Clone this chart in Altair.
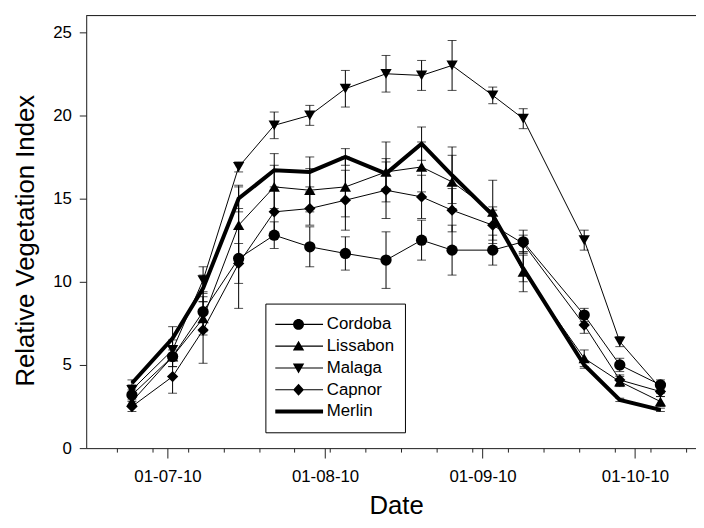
import altair as alt
import pandas as pd

dates = ["2010-06-24", "2010-07-02", "2010-07-08", "2010-07-15", "2010-07-22",
         "2010-07-29", "2010-08-05", "2010-08-13", "2010-08-20", "2010-08-26",
         "2010-09-03", "2010-09-09", "2010-09-21", "2010-09-28", "2010-10-06"]

series_names = ["Cordoba", "Lissabon", "Malaga", "Capnor", "Merlin"]

cordoba = [3.2, 5.5, 8.2, 11.4, 12.8, 12.1, 11.7, 11.3, 12.5, 11.9, 11.9, 12.4, 8.0, 5.0, 3.8]
lissabon = [2.8, 5.5, 7.8, 13.4, 15.7, 15.5, 15.7, 16.6, 16.9, 16.0, 14.2, 10.6, 5.4, 4.0, 2.8]
malaga = [3.5, 5.9, 10.1, 16.9, 19.4, 20.0, 21.6, 22.5, 22.4, 23.0, 21.2, 19.8, 12.5, 6.4, 3.6]
capnor = [2.5, 4.3, 7.1, 11.1, 14.2, 14.4, 14.9, 15.5, 15.1, 14.3, 13.4, 12.3, 7.4, 4.1, 3.4]
merlin = [3.9, 6.6, 9.6, 15.0, 16.7, 16.6, 17.5, 16.5, 18.3, 16.4, 14.0, 10.8, 5.0, 2.9, 2.3]

cordoba_err = [0.3, 0.6, 1.2, 3.0, 0.8, 1.2, 1.0, 1.7, 1.2, 1.5, 0.9, 0.7, 0.4, 0.4, 0.3]
lissabon_err = [0.3, 0.6, 1.0, 2.3, 1.3, 1.3, 1.8, 1.8, 1.5, 1.6, 1.9, 1.2, 0.5, 0.3, 0.3]
malaga_err = [0.3, 0.6, 0.8, 0.3, 0.8, 0.6, 1.1, 1.1, 0.9, 1.5, 0.5, 0.6, 0.6, 0.3, 0.3]
capnor_err = [0.3, 1.0, 2.0, 1.2, 1.3, 1.0, 1.8, 1.7, 1.3, 1.3, 0.9, 0.5, 0.5, 0.3, 0.3]
merlin_err = [0.2, 0.7, 0.8, 0.8, 1.0, 0.9, 0.5, 0.9, 1.0, 1.7, 0.5, 0.8, 0.2, 0.1, 0.1]

month_ticks = ["2010-07-01", "2010-08-01", "2010-09-01", "2010-10-01"]
week_ticks = ["2010-06-21", "2010-06-28", "2010-07-05", "2010-07-12", "2010-07-19",
              "2010-07-26", "2010-08-02", "2010-08-09", "2010-08-16", "2010-08-23",
              "2010-08-30", "2010-09-06", "2010-09-13", "2010-09-20", "2010-09-27",
              "2010-10-04", "2010-10-11"]
x_domain = ["2010-06-15", "2010-10-13"]
y_ticks = [0, 5, 10, 15, 20, 25]

values = [cordoba, lissabon, malaga, capnor, merlin]
errors = [cordoba_err, lissabon_err, malaga_err, capnor_err, merlin_err]

rows = []
for name, vals, errs in zip(series_names, values, errors):
    for d, v, e in zip(dates, vals, errs):
        rows.append({"series": name, "date": d + "T00:00:00", "value": v, "err": e})
df = pd.DataFrame(rows)

def dt(s):
    y, m, d = s.split("-")
    return alt.DateTime(year=int(y), month=int(m), date=int(d))

FONT = "Liberation Sans"
W, H = 616, 437

xscale = alt.Scale(domain=[dt(s) for s in x_domain], nice=False)
yscale = alt.Scale(domain=[0, 26], nice=False)

x_main = alt.X("date:T", scale=xscale, title="Date",
               axis=alt.Axis(values=[dt(s) for s in month_ticks], format="%d-%m-%y",
                             orient="bottom", tickSize=10, labelPadding=11,
                             labelFontSize=17, labelFont=FONT, labelColor="black",
                             titleFont=FONT, titleFontSize=26, titleFontWeight="normal",
                             titleColor="black", titlePadding=8, titleX=313,
                             domainColor="#222", tickColor="#222", grid=False,
                             labelFlush=False))
x_plain = alt.X("date:T", scale=xscale, axis=None)
y_main = alt.Y("value:Q", scale=yscale, title="Relative Vegetation Index",
               axis=alt.Axis(values=y_ticks, tickSize=7, labelPadding=8,
                             orient="left",
                             labelFontSize=17, labelFont=FONT, labelColor="black",
                             titleFont=FONT, titleFontSize=26, titleFontWeight="normal",
                             titleColor="black", titlePadding=14, titleY=227,
                             domainColor="#222", tickColor="#222", grid=False))
y_plain = alt.Y("value:Q", scale=yscale, axis=None)

base = alt.Chart(df).transform_calculate(
    lo="datum.value - datum.err", hi="datum.value + datum.err")

minor_axis = base.mark_rule(opacity=0).encode(
    x=alt.X("date:T", scale=xscale,
            axis=alt.Axis(values=[dt(s) for s in week_ticks], orient="bottom",
                          tickSize=4, labels=False, domain=False, title=None,
                          tickColor="#222", grid=False)),
    y=y_main)

err_rule = base.mark_rule(color="black", strokeWidth=1).encode(
    x=x_plain, y=alt.Y("lo:Q", scale=yscale, axis=None), y2="hi:Q", detail="series:N")
err_lo = base.mark_tick(color="black", orient="horizontal", size=9, thickness=1).encode(
    x=x_plain, y=alt.Y("lo:Q", scale=yscale, axis=None), detail="series:N")
err_hi = base.mark_tick(color="black", orient="horizontal", size=9, thickness=1).encode(
    x=x_plain, y=alt.Y("hi:Q", scale=yscale, axis=None), detail="series:N")

thin_lines = base.transform_filter("datum.series != 'Merlin'").mark_line(
    color="black", strokeWidth=1).encode(x=x_main, y=y_plain, detail="series:N")
thick_line = base.transform_filter("datum.series == 'Merlin'").mark_line(
    color="black", strokeWidth=4).encode(x=x_plain, y=y_plain)

points = base.transform_filter("datum.series != 'Merlin'").mark_point(
    filled=True, color="black", opacity=1, size=130).encode(
    x=x_plain, y=y_plain,
    shape=alt.Shape("series:N",
                    scale=alt.Scale(domain=series_names[:4],
                                    range=["circle", "triangle-up", "triangle-down", "diamond"]),
                    legend=None))

LN = "M-4.5,-0.1H4.5V0.1H-4.5Z"
legend_paths = [
    LN + "M1,0A1,1,0,1,1,-1,0A1,1,0,1,1,1,0Z",
    LN + "M0,-1L1.05,0.8L-1.05,0.8Z",
    LN + "M0,1L-1.05,-0.8L1.05,-0.8Z",
    LN + "M0,-1.1L1,0L0,1.1L-1,0Z",
    "M-4.5,-0.35H4.5V0.35H-4.5Z",
]

legend_layer = base.mark_point(filled=True, color="black", opacity=0, size=121).encode(
    x=x_plain, y=y_plain,
    shape=alt.Shape("series:N",
                    scale=alt.Scale(domain=series_names, range=legend_paths),
                    sort=series_names,
                    legend=alt.Legend(orient="none", legendX=181, legendY=291, title=None,
                                      strokeColor="black", fillColor="white", padding=10,
                                      symbolOffset=15, labelOffset=20, symbolSize=121,
                                      symbolOpacity=1, symbolFillColor="black",
                                      labelExpr="datum.label + '\u00a0\u00a0'",
                                      labelFont=FONT, labelFontSize=17, labelColor="black",
                                      clipHeight=22, rowPadding=0)))

top_line = alt.Chart(pd.DataFrame({"k": [0]})).mark_rule(color="#222", strokeWidth=1).encode(
    x=alt.value(0), x2=alt.value(W), y=alt.value(0))

chart = alt.layer(
    minor_axis, err_rule, err_lo, err_hi, thin_lines, thick_line, points, legend_layer, top_line
).resolve_scale(shape="independent").resolve_axis(x="independent", y="independent").properties(
    width=W, height=H,
    autosize=alt.AutoSizeParams(type="none"),
    padding={"left": 79, "top": 5, "right": 0, "bottom": 70},
).configure_view(stroke=None).configure(background="white")

chart.save("out.html", embed_options={"renderer": "svg", "actions": False})
